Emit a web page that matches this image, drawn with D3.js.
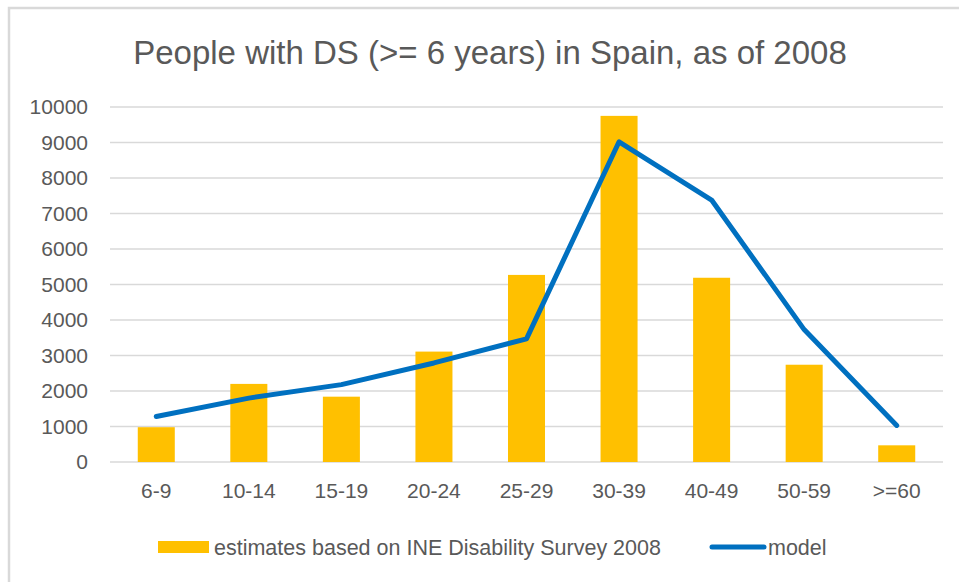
<!DOCTYPE html>
<html>
<head>
<meta charset="utf-8">
<script src="https://cdn.jsdelivr.net/npm/d3@7"></script>
<style>
  body { margin: 0; background: #fff; }
  svg text { font-family: "Liberation Sans", Arial, sans-serif; fill: #595959; }
</style>
</head>
<body>
<div id="dsChart"></div>
<script>
// age groups and the two series
const ageGroups = ["6-9", "10-14", "15-19", "20-24", "25-29", "30-39", "40-49", "50-59", ">=60"]
const surveyEstimates = [980, 2200, 1840, 3110, 5270, 9750, 5190, 2740, 470]
const modelValues = [1280, 1800, 2180, 2790, 3470, 9020, 7380, 3730, 1030]
const yTicks = [0, 1000, 2000, 3000, 4000, 5000, 6000, 7000, 8000, 9000, 10000]

const chartTitle = "People with DS (>= 6 years) in Spain, as of 2008"
const barLabel = "estimates based on INE Disability Survey 2008"
const lineLabel = "model"

const width = 959, height = 582
const margin = { top: 107, right: 16, bottom: 120, left: 110 }
const plotWidth = width - margin.left - margin.right
const plotHeight = height - margin.top - margin.bottom
const labelSize = "21px"

const svg = d3.select("#dsChart")
    .append("svg")
    .attr("width", width)
    .attr("height", height)

// outer chart frame
svg.append("rect")
    .attr("x", 9).attr("y", 8)
    .attr("width", width + 20).attr("height", height + 20)
    .attr("fill", "none")
    .attr("stroke", "#d9d9d9")
    .attr("stroke-width", 2.5)

svg.append("text")
    .attr("x", 490).attr("y", 64)
    .attr("text-anchor", "middle")
    .style("font-size", "33px")
    .text(chartTitle)

const g = svg.append("g")
    .attr("transform", "translate(" + margin.left + "," + margin.top + ")")

const x = d3.scaleBand()
    .domain(ageGroups)
    .range([0, plotWidth])
    .paddingInner(0.6)
    .paddingOuter(0.3)

const y = d3.scaleLinear().domain([0, 10000]).range([plotHeight, 0])

// horizontal gridlines
g.append("g")
    .selectAll("line")
    .data(yTicks)
    .join("line")
    .attr("x1", 0).attr("x2", plotWidth)
    .attr("y1", d => y(d)).attr("y2", d => y(d))
    .attr("stroke", "#d9d9d9")
    .attr("stroke-width", 1.3)

// y axis labels
const yAxis = g.append("g")
    .call(d3.axisLeft(y).tickValues(yTicks).tickSize(0).tickPadding(22).tickFormat(d3.format("d")))
yAxis.select(".domain").remove()
yAxis.selectAll("text").style("font-size", labelSize).attr("fill", "#595959")

// x axis labels
const xAxis = g.append("g")
    .attr("transform", "translate(0," + plotHeight + ")")
    .call(d3.axisBottom(x).tickSize(0).tickPadding(21))
xAxis.select(".domain").remove()
xAxis.selectAll("text").style("font-size", labelSize).attr("fill", "#595959")

// survey bars
g.selectAll(".bar")
    .data(ageGroups)
    .join("rect")
    .attr("class", "bar")
    .attr("x", d => x(d))
    .attr("width", x.bandwidth())
    .attr("y", (d, i) => y(surveyEstimates[i]))
    .attr("height", (d, i) => plotHeight - y(surveyEstimates[i]))
    .attr("fill", "#ffc000")

// model line
const modelLine = d3.line()
    .x((d, i) => x(ageGroups[i]) + x.bandwidth() / 2)
    .y(d => y(d))

g.append("path")
    .datum(modelValues)
    .attr("d", modelLine)
    .attr("fill", "none")
    .attr("stroke", "#0070c0")
    .attr("stroke-width", 5)
    .attr("stroke-linejoin", "round")
    .attr("stroke-linecap", "round")

// legend
const legend = svg.append("g").attr("transform", "translate(0,547)")
legend.append("rect")
    .attr("x", 158).attr("y", -6)
    .attr("width", 51).attr("height", 12)
    .attr("fill", "#ffc000")
legend.append("text")
    .attr("x", 214).attr("y", 0)
    .attr("dy", "0.35em")
    .style("font-size", "21.5px")
    .text(barLabel)
legend.append("line")
    .attr("x1", 712).attr("x2", 764)
    .attr("y1", 0).attr("y2", 0)
    .attr("stroke", "#0070c0")
    .attr("stroke-width", 5)
    .attr("stroke-linecap", "round")
legend.append("text")
    .attr("x", 768).attr("y", 0)
    .attr("dy", "0.35em")
    .style("font-size", "21.5px")
    .text(lineLabel)
</script>
</body>
</html>
